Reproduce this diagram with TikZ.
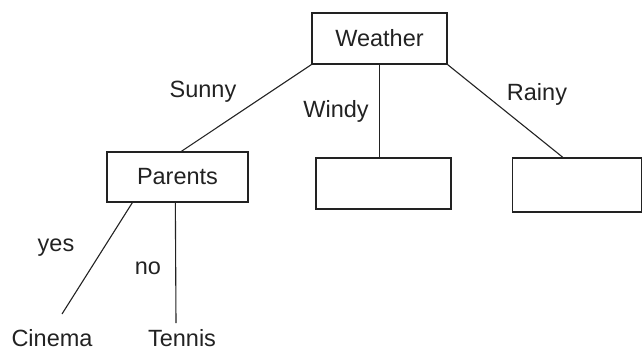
\documentclass[tikz,border=0pt]{standalone}
\usepackage{fontspec}
\setmainfont{Liberation Sans}
\usetikzlibrary{calc}
\definecolor{ink}{HTML}{222222}
\tikzset{
  box/.style={draw=ink, line width=1.3pt, rectangle, inner sep=0pt, text=ink, font=\fontsize{23.5}{27}\selectfont},
  lbl/.style={inner sep=0pt, text=ink, font=\fontsize{23.5}{27}\selectfont},
  edge/.style={draw=ink, line width=1.1pt}
}
\begin{document}
\begin{tikzpicture}[x=1pt,y=-1pt]
\useasboundingbox (0,0) rectangle (643,351);
\node[box, minimum width=135pt, minimum height=51pt] (W) at (379.5,38.5) {Weather};
\node[box, minimum width=135pt, minimum height=51pt] (WB) at (383.5,183.5) {};
\node[box, minimum width=129pt, minimum height=54pt] (RB) at (577,185) {};
\node[box, minimum width=141pt, minimum height=50pt] (P) at (177.5,177) {Parents};
\node[lbl] (sunny) at (203,92) {Sunny};
\node[lbl] (windy) at (336,111) {Windy};
\node[lbl] (rainy) at (537,94) {Rainy};
\node[lbl] (yes) at (56,248) {yes};
\node[lbl] (no) at (148,268) {no};
\node[lbl, anchor=north] (C) at (52,329) {Cinema};
\node[lbl, anchor=north] (T) at (182,329) {Tennis};
\coordinate (cend) at (62,314);
\coordinate (tend) at (176,323);
\draw[edge] (W.south west) -- ($(P.north west)+(75,0)$);
\draw[edge] (W.south) -- (W.south |- WB.north);
\draw[edge] (W.south east) -- ($(RB.north west)+(51,0)$);
\draw[edge] ($(P.south west)+(26,0)$) -- (cend);
\draw[edge] ($(P.south west)+(69,0)$) -- (tend);
\end{tikzpicture}
\end{document}
